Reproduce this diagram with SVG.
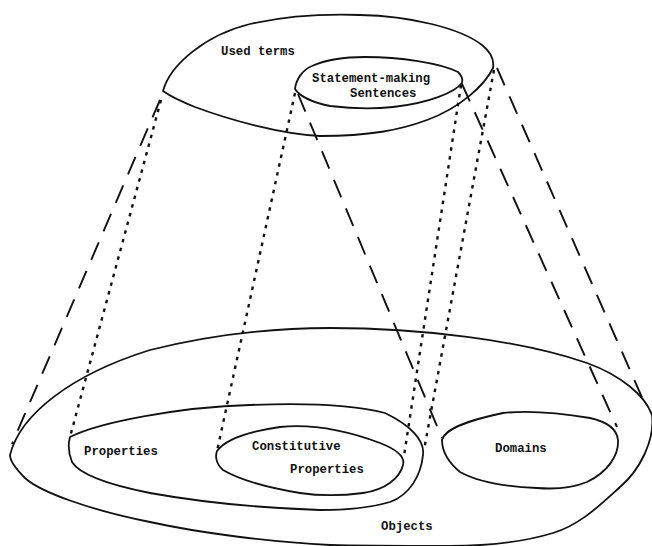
<svg xmlns="http://www.w3.org/2000/svg" width="652" height="546" viewBox="0 0 652 546">
<style>
.shape{fill:none;stroke:#111;stroke-width:1.8;stroke-linejoin:round}
.dash{fill:none;stroke:#111;stroke-width:1.9;stroke-dasharray:19 12}
.dot{fill:none;stroke:#111;stroke-width:2.4;stroke-dasharray:3.5 5.5}
text{font-family:"Liberation Mono","DejaVu Sans Mono",monospace;font-size:12.3px;fill:#111;font-weight:bold}
</style>
<rect width="652" height="546" fill="#fff"/>
<g id="connectors">
<path class="dash" d="M160,100 L12,444"/>
<path class="dash" d="M497,68 L644,402"/>
<path class="dash" d="M462,84 L617,427"/>
<path class="dash" d="M298,94 L442,438"/>
<path class="dot" d="M161,100 L70,437"/>
<path class="dot" d="M295,93 L217,451"/>
<path class="dot" d="M461,85 L404,456"/>
<path class="dot" d="M494,70 L424,450"/>
</g>
<g id="used-terms">
<path class="shape" d="M163,91 C170,65 205,35 250,24 C290,15 330,14 360,15 C410,16 460,28 482,45 C492,53 494,62 493,68 C485,85 460,108 427,120 C400,130 370,136 320,136 C280,134 230,120 195,107 C180,101 170,96 163,91 Z"/>
<text x="221" y="55">Used terms</text>
</g>
<g id="statement-making-sentences">
<path class="shape" d="M295,89 C296,80 302,70 312,66 C330,58 350,57 365,57 C400,57 440,63 458,72 C462,76 463,80 462,83 C455,92 430,103 393,107 C375,109 355,109 330,106 C315,103 300,97 295,89 Z"/>
<text x="312" y="82">Statement-making</text>
<text x="350" y="97">Sentences</text>
</g>
<g id="objects">
<path class="shape" d="M10,455 C20,415 70,375 150,350 C210,335 270,328 330,328 C420,328 520,340 587,363 C620,375 645,395 652,415 C655,440 640,470 620,487 C600,505 580,525 553,533 C520,543 480,546 450,546 C400,546 360,546 330,545 C270,542 200,533 150,522 C90,510 40,492 25,478 C15,468 10,460 10,455 Z"/>
<text x="381" y="530">Objects</text>
</g>
<g id="properties">
<path class="shape" d="M70,437 C100,422 180,407 250,405 C300,403 350,404 385,413 C410,425 425,440 423,455 C421,475 410,495 390,502 C370,508 345,510 320,510 C260,508 200,502 150,493 C110,485 80,475 72,462 C68,452 68,444 70,437 Z"/>
<text x="84" y="455">Properties</text>
</g>
<g id="constitutive-properties">
<path class="shape" d="M217,451 C225,440 245,432 280,427 C310,424 345,430 380,443 C398,450 405,458 403,465 C400,478 385,490 363,493 C340,496 320,496 300,493 C270,488 240,480 223,470 C216,464 215,456 217,451 Z"/>
<text x="252" y="450">Constitutive</text>
<text x="290" y="473">Properties</text>
</g>
<g id="domains">
<path class="shape" d="M442,440 C445,428 470,420 503,413 C530,410 560,413 590,418 C608,422 617,430 618,440 C619,455 608,472 587,482 C570,489 550,489 537,488 C510,487 480,483 460,472 C448,462 442,450 442,440 Z"/>
<text x="495" y="452">Domains</text>
</g>
</svg>
